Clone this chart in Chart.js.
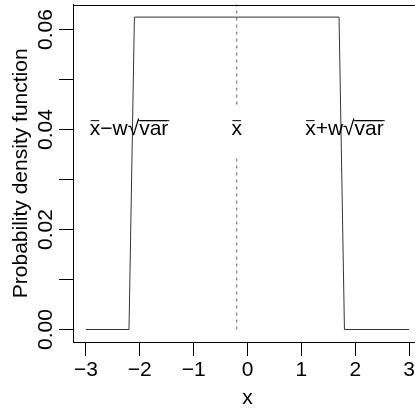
<!DOCTYPE html>
<html>
<head>
<meta charset="utf-8">
<script src="https://cdn.jsdelivr.net/npm/chart.js@4.4.0/dist/chart.umd.min.js"></script>
<style>
  html, body { margin: 0; padding: 0; background: #fff; overflow: hidden; }
  #wrap { width: 440px; height: 409px; }
</style>
</head>
<body>
<div id="wrap"><canvas id="chart" width="440" height="409"></canvas></div>
<script>
// values
const xTicks = [-3, -2, -1, 0, 1, 2, 3];
const yTicks = [0, 0.01, 0.02, 0.03, 0.04, 0.05, 0.06];
const yTickLabels = ["0.00", "", "0.02", "", "0.04", "", "0.06"];

// the density curve (uniform window)
const pdfX = [-3, -2.2, -2.1, 1.7, 1.8, 3];
const pdfY = [0, 0, 0.0625, 0.0625, 0, 0];

// dashed line at the mean, broken round its label
const meanX = -0.2;
const meanLowY = [0, 0.035];
const meanHighY = [0.045, 0.07];

// where the three labels sit
const labelX = [-2.2, -0.2, 1.8];
const labelY = 0.04;
const labelTexts = [
  [["x", "bar"], ["\u2212w", ""], ["\u221A", "root"], ["var", "bar"]],
  [["x", "bar"]],
  [["x", "bar"], ["+w", ""], ["\u221A", "root"], ["var", "bar"]],
];

const FONT = "21px 'Liberation Sans', Arial, sans-serif";

const boxAndLabels = {
  id: "boxAndLabels",
  afterDraw(chart) {
    const { ctx, chartArea, scales } = chart;
    ctx.save();
    ctx.strokeStyle = "#000";
    ctx.lineWidth = 1;
    ctx.strokeRect(Math.round(chartArea.left) + 0.5, Math.round(chartArea.top) + 0.5,
      Math.round(chartArea.right - chartArea.left), Math.round(chartArea.bottom - chartArea.top));

    ctx.font = FONT;
    ctx.fillStyle = "#000";
    ctx.textBaseline = "alphabetic";
    ctx.textAlign = "left";
    const base = scales.y.getPixelForValue(labelY) + 5.6;
    labelTexts.forEach((parts, i) => {
      const widths = parts.map(p => ctx.measureText(p[0]).width);
      const total = widths.reduce((a, b) => a + b, 0);
      let x = scales.x.getPixelForValue(labelX[i]) - total / 2;
      parts.forEach((p, j) => {
        ctx.fillText(p[0], x, base);
        if (p[1] === "bar") {
          ctx.beginPath();
          ctx.moveTo(x + 1, base - 14.5);
          ctx.lineTo(x + widths[j] - 1, base - 14.5);
          ctx.stroke();
        }
        if (p[1] === "root") {
          // carry the radical's top over the radicand
          ctx.beginPath();
          ctx.moveTo(x + widths[j] - 1, base - 14.5);
          ctx.lineTo(x + widths[j] + widths[j + 1] + 1, base - 14.5);
          ctx.stroke();
        }
        x += widths[j];
      });
    });
    ctx.restore();
  }
};

new Chart(document.getElementById("chart"), {
  type: "scatter",
  data: {
    datasets: [
      {
        data: pdfX.map((x, i) => ({ x: x, y: pdfY[i] })),
        showLine: true,
        borderColor: "#333",
        borderWidth: 1,
        pointRadius: 0,
      },
      {
        data: meanLowY.map(y => ({ x: meanX, y: y })),
        showLine: true,
        borderColor: "#666",
        borderWidth: 1,
        borderDash: [3, 4],
        pointRadius: 0,
      },
      {
        data: meanHighY.map(y => ({ x: meanX, y: y })),
        showLine: true,
        borderColor: "#666",
        borderWidth: 1,
        borderDash: [3, 4],
        pointRadius: 0,
      },
    ],
  },
  options: {
    responsive: false,
    animation: false,
    devicePixelRatio: 1,
    layout: { padding: { top: 2, right: 18, left: 0, bottom: 0 } },
    plugins: { legend: { display: false }, tooltip: { enabled: false } },
    scales: {
      x: {
        type: "linear",
        min: -3.24,
        max: 3.24,
        afterBuildTicks: axis => { axis.ticks = xTicks.map(v => ({ value: v })); },
        afterFit: scale => { scale.height = 67; },
        grid: { drawOnChartArea: false, tickLength: 14, color: "#000" },
        border: { color: "#000" },
        ticks: {
          font: { family: "'Liberation Sans', Arial", size: 21 },
          color: "#000",
          padding: 2,
          maxRotation: 0,
          callback: v => (v < 0 ? "\u2212" + Math.abs(v) : String(v)),
        },
        title: {
          display: true,
          text: "x",
          font: { family: "'Liberation Sans', Arial", size: 21, lineHeight: 1 },
          color: "#000",
          padding: { top: 0, bottom: 0 },
        },
      },
      y: {
        type: "linear",
        min: -0.0025,
        max: 0.065,
        afterBuildTicks: axis => { axis.ticks = yTicks.map(v => ({ value: v })); },
        afterFit: scale => { scale.width = 73; },
        grid: { drawOnChartArea: false, tickLength: 14, color: "#000" },
        border: { color: "#000" },
        ticks: {
          font: { family: "'Liberation Sans', Arial", size: 21 },
          color: "#000",
          padding: -8,
          crossAlign: "center",
          minRotation: 90,
          maxRotation: 90,
          callback: (v, i) => yTickLabels[i],
        },
        title: {
          display: true,
          text: "Probability density function",
          font: { family: "'Liberation Sans', Arial", size: 21 },
          color: "#000",
          padding: { top: 9, bottom: 0 },
        },
      },
    },
  },
  plugins: [boxAndLabels],
});
</script>
</body>
</html>
